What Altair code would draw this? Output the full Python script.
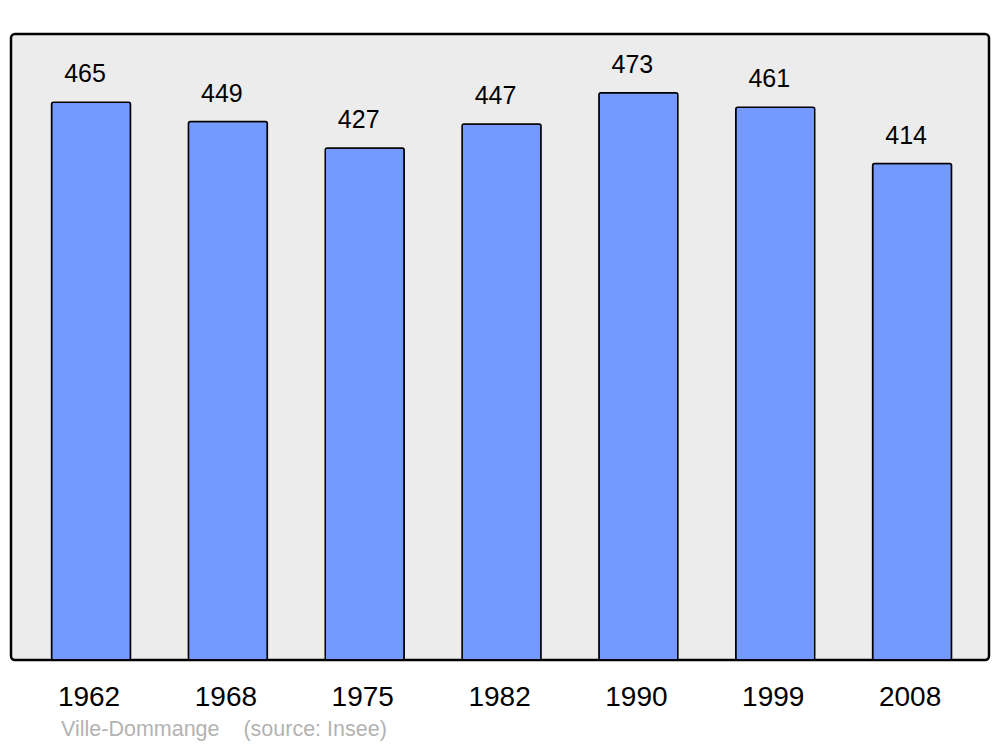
import altair as alt
import pandas as pd

years = ["1962", "1968", "1975", "1982", "1990", "1999", "2008"]
population = [465, 449, 427, 447, 473, 461, 414]
footer_text = ["Ville-Dommange\u00a0\u00a0\u00a0\u00a0(source: Insee)"]

df = pd.DataFrame({"year": years, "pop": population})

W, H = 978, 626

x = alt.X("year:N", sort=years,
          scale=alt.Scale(paddingInner=0.423, paddingOuter=0.285, align=0.52),
          axis=alt.Axis(title=None, labelAngle=0, labelFontSize=28, labelFont="Liberation Sans",
                        labelColor="black", domain=False, ticks=False, tickSize=0,
                        labelBaseline="alphabetic", labelPadding=45, labelOffset=-2))
y = alt.Y("pop:Q", scale=alt.Scale(domain=[0, 522], nice=False), axis=None)

bars = alt.Chart(df).mark_bar(
    color="#7499ff", stroke="black", strokeWidth=1.5, cornerRadius=2
).encode(x=x, y=y)

labels = alt.Chart(df).mark_text(
    baseline="alphabetic", dy=-20, dx=-6, fontSize=25, font="Liberation Sans", color="black"
).encode(x=x, y=y, text="pop:Q")

footer = alt.Chart(pd.DataFrame({"t": footer_text})).mark_text(
    align="left", baseline="alphabetic", fontSize=21.5, font="Liberation Sans", color="#b3b3b3"
).encode(x=alt.value(50), y=alt.value(H + 76), text="t:N")

chart = alt.layer(bars, labels, footer).properties(
    width=W, height=H,
    background="white",
    padding={"left": 3, "top": 26, "right": 3, "bottom": 5},
).configure_view(
    fill="#ececec", stroke="black", strokeWidth=2.5, cornerRadius=4
)

chart.save("out.html", embed_options={"renderer": "svg", "actions": False})
